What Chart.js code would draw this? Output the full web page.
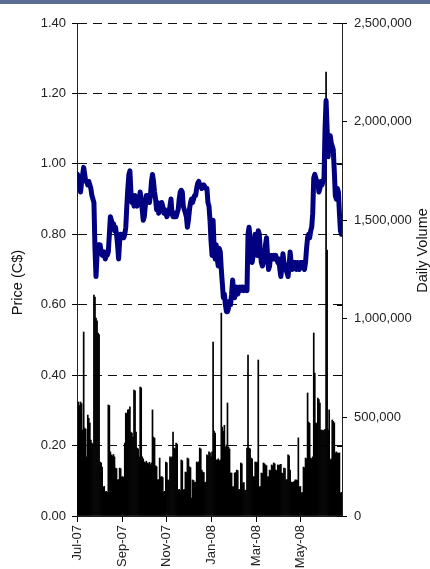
<!DOCTYPE html>
<html><head><meta charset="utf-8">
<script src="https://cdn.jsdelivr.net/npm/chart.js@4.4.0/dist/chart.umd.min.js"></script>
<style>
html,body{margin:0;padding:0;background:#fff;}
#band{height:4px;background:#5a6c91;}
#wrap{position:relative;width:430px;height:565px;}
</style></head><body>
<div id="band"></div>
<div id="wrap"><canvas id="c"></canvas></div>
<script>
// Category ticks (bi-monthly)
const tickLabels = ['Jul-07','Sep-07','Nov-07','Jan-08','Mar-08','May-08'];
const leftTitle = 'Price (C$)';
const rightTitle = 'Daily Volume';

// Daily closing price (C$), one per trading day from 3 Jul 2007
const price = [
0.97,0.96,0.94,0.92,0.95,0.97,0.99,0.97,0.95,0.95,
0.94,0.95,0.94,0.93,0.91,0.90,0.89,0.76,0.68,0.74,
0.77,0.76,0.77,0.75,0.74,0.74,0.75,0.73,0.74,0.74,
0.75,0.80,0.85,0.84,0.82,0.83,0.81,0.82,0.80,0.77,
0.73,0.78,0.80,0.79,0.80,0.79,0.80,0.82,0.88,0.93,
0.97,0.98,0.92,0.89,0.90,0.88,0.91,0.89,0.88,0.89,
0.90,0.92,0.90,0.87,0.84,0.85,0.88,0.91,0.90,0.91,
0.89,0.91,0.95,0.97,0.95,0.92,0.90,0.87,0.89,0.86,
0.88,0.87,0.89,0.88,0.86,0.87,0.86,0.85,0.86,0.86,
0.88,0.90,0.86,0.85,0.85,0.86,0.85,0.86,0.87,0.90,
0.92,0.925,0.92,0.88,0.87,0.86,0.85,0.82,0.84,0.87,
0.89,0.90,0.89,0.90,0.91,0.91,0.93,0.945,0.95,0.94,
0.94,0.93,0.94,0.94,0.935,0.93,0.93,0.89,0.88,0.84,
0.78,0.74,0.84,0.76,0.73,0.77,0.73,0.71,0.76,0.75,
0.70,0.66,0.62,0.63,0.60,0.58,0.58,0.59,0.61,0.60,
0.63,0.67,0.64,0.62,0.64,0.65,0.63,0.64,0.65,0.64,
0.65,0.65,0.64,0.65,0.65,0.64,0.80,0.82,0.79,0.75,
0.72,0.74,0.76,0.80,0.78,0.74,0.81,0.80,0.75,0.72,
0.71,0.72,0.73,0.77,0.79,0.74,0.70,0.71,0.74,0.74,
0.73,0.74,0.73,0.74,0.73,0.72,0.73,0.70,0.68,0.71,
0.745,0.72,0.71,0.70,0.69,0.68,0.71,0.75,0.72,0.70,
0.72,0.71,0.72,0.70,0.72,0.71,0.70,0.72,0.71,0.72,
0.71,0.70,0.72,0.76,0.79,0.80,0.79,0.81,0.82,0.86,
0.96,0.97,0.96,0.94,0.95,0.92,0.93,0.95,0.94,0.95,
0.96,1.10,1.18,1.10,1.02,1.07,1.08,1.06,1.05,1.04,
0.98,0.91,0.90,0.93,0.92,0.86,0.81,0.80
];

// Daily volume, thousands of shares
const volumeThousands = [
335,578,560,578,570,436,933,446,440,300,
512,495,472,385,370,365,1120,1110,1004,990,
928,920,274,270,248,147,150,122,125,120,
563,560,325,310,305,312,300,243,240,183,
185,243,240,198,200,195,370,522,520,538,
540,553,426,420,400,639,635,426,345,340,
300,654,650,300,290,274,270,278,269,265,
272,260,269,538,400,395,255,250,183,185,
294,198,200,195,122,125,274,270,183,180,
300,295,300,426,345,340,370,365,132,135,
130,284,280,132,135,223,220,294,290,250,
245,91,183,180,170,172,274,270,275,345,
340,233,223,220,170,172,310,305,325,320,
300,325,882,430,421,284,284,290,280,284,
1029,451,430,460,350,360,573,350,340,218,
218,147,150,218,220,233,230,132,135,269,
265,167,170,132,130,345,816,345,340,294,
290,198,200,274,270,274,791,147,150,218,
215,269,265,259,255,198,200,233,230,259,
255,269,265,233,230,259,255,259,262,218,
215,243,240,183,185,310,305,233,172,170,
172,175,183,183,180,396,147,150,117,120,
248,245,294,290,624,477,470,294,290,300,
928,725,472,470,598,590,573,436,436,430,
436,440,2251,1349,436,538,284,290,487,480,
472,320,325,320,318,320,117,120
];

// trading-day calendar (weekdays from first trading day)
const monthNames = ['Jan','Feb','Mar','Apr','May','Jun','Jul','Aug','Sep','Oct','Nov','Dec'];
const dates = [];
{
  const d = new Date(2007, 6, 3);
  while (dates.length < price.length) {
    const wd = d.getDay();
    if (wd !== 0 && wd !== 6) dates.push(new Date(d));
    d.setDate(d.getDate() + 1);
  }
}
const fmt = dt => monthNames[dt.getMonth()] + '-' + String(dt.getFullYear()).slice(2);
const tickIndex = tickLabels.map(l => dates.findIndex(dt => fmt(dt) === l));

const priceData = price.map((p, i) => ({x: i, y: p}));
const volumeData = volumeThousands.map((v, i) => ({x: i, y: v * 1000}));

const FONT = '"Liberation Sans", Arial, sans-serif';

const extras = {
  id: 'extras',
  afterDraw(chart) {
    const {ctx, chartArea: a, scales} = chart;
    ctx.save();
    ctx.strokeStyle = '#000';
    ctx.lineWidth = 1;
    scales.y.ticks.forEach(t => {
      const py = Math.round(scales.y.getPixelForValue(t.value)) + 0.5;
      ctx.beginPath(); ctx.moveTo(a.right - 5, py); ctx.lineTo(a.right, py); ctx.stroke();
    });
    ctx.fillStyle = '#111';
    ctx.font = '14.5px ' + FONT;
    ctx.textAlign = 'center';
    ctx.textBaseline = 'middle';
    const mid = (a.top + a.bottom) / 2;
    ctx.save();
    ctx.translate(18, mid + 13);
    ctx.rotate(-Math.PI / 2);
    ctx.fillText(leftTitle, 0, 0);
    ctx.restore();
    ctx.save();
    ctx.translate(chart.width - 7, mid - 19);
    ctx.rotate(-Math.PI / 2);
    ctx.fillText(rightTitle, 0, 0);
    ctx.restore();
    ctx.restore();
  }
};

new Chart(document.getElementById('c'), {
  data: {
    datasets: [
      {
        type: 'line', data: priceData, yAxisID: 'y', order: 0,
        borderColor: '#000080', borderWidth: 5, pointRadius: 0, tension: 0,
        borderJoinStyle: 'round', borderCapStyle: 'round'
      },
      {
        type: 'bar', data: volumeData, yAxisID: 'y2', order: 1,
        backgroundColor: '#000', borderWidth: 0,
        barPercentage: 1, categoryPercentage: 1, grouped: false
      }
    ]
  },
  options: {
    responsive: true, maintainAspectRatio: false, animation: false,
    layout: {padding: {top: 19, left: 0, right: 0, bottom: 0}},
    plugins: {legend: {display: false}, tooltip: {enabled: false}},
    scales: {
      x: {
        type: 'linear', min: -0.5, max: price.length - 0.5, offset: false,
        afterBuildTicks: s => { s.ticks = tickIndex.map(v => ({value: v})); },
        afterFit: s => { s.height = 53; },
        grid: {drawOnChartArea: false, drawTicks: true, tickLength: 6, tickColor: '#000', offset: false},
        border: {display: true, color: '#222', width: 1},
        ticks: {
          autoSkip: false, minRotation: 90, maxRotation: 90, padding: 3,
          color: '#222', font: {family: FONT, size: 13},
          callback: (v, i) => tickLabels[i]
        }
      },
      y: {
        position: 'left', min: 0, max: 1.4,
        afterFit: s => { s.width = 77; },
        grid: {color: '#111', lineWidth: 1, tickLength: 5, tickColor: '#000', tickBorderDash: []},
        border: {display: true, color: '#222', width: 1, dash: [9, 6]},
        ticks: {stepSize: 0.2, padding: 6, color: '#222', font: {family: FONT, size: 13},
          callback: v => v.toFixed(2)}
      },
      y2: {
        position: 'right', min: 0, max: 2500000,
        afterFit: s => { s.width = 88; },
        grid: {drawOnChartArea: false, tickLength: 5, tickColor: '#000'},
        border: {display: true, color: '#222', width: 1},
        ticks: {stepSize: 500000, padding: 7, color: '#222', font: {family: FONT, size: 13},
          callback: v => v.toLocaleString('en-US')}
      }
    }
  },
  plugins: [extras]
});
</script>
</body></html>
